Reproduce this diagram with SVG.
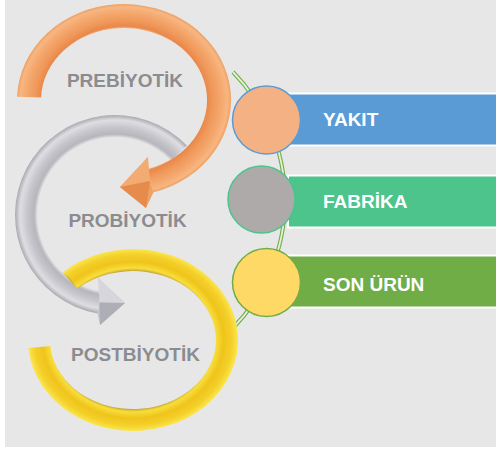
<svg xmlns="http://www.w3.org/2000/svg" width="496" height="449" viewBox="0 0 496 449">
<style>
.lbl{font-family:"Liberation Sans",Arial,sans-serif;font-weight:bold;font-size:19px;fill:#8c8c90;text-anchor:middle}
.bt{font-family:"Liberation Sans",Arial,sans-serif;font-weight:bold;font-size:19px;fill:#ffffff}
.bar{stroke:#ffffff;stroke-width:2}
.circ{stroke-width:1.5}
</style>
<defs>
<radialGradient id="gO" gradientUnits="userSpaceOnUse" cx="0" cy="0" r="1" gradientTransform="translate(124 100) scale(107 96)">
<stop offset="0.74" stop-color="#f6c39a"/>
<stop offset="0.77" stop-color="#e8884a"/>
<stop offset="0.83" stop-color="#f0985a"/>
<stop offset="0.91" stop-color="#f4a86e"/>
<stop offset="0.97" stop-color="#f8b682"/>
<stop offset="1" stop-color="#eea062"/>
</radialGradient>
<radialGradient id="gG" gradientUnits="userSpaceOnUse" cx="0" cy="0" r="1" gradientTransform="translate(115 215) scale(100 100)">
<stop offset="0.78" stop-color="#dcdce0"/>
<stop offset="0.81" stop-color="#b6b6bc"/>
<stop offset="0.88" stop-color="#c6c6cc"/>
<stop offset="0.95" stop-color="#dedee2"/>
<stop offset="1" stop-color="#a8a8b0"/>
</radialGradient>
<radialGradient id="gY" gradientUnits="userSpaceOnUse" cx="0" cy="0" r="1" gradientTransform="translate(133 340) scale(105 91)">
<stop offset="0.76" stop-color="#c8a838"/>
<stop offset="0.79" stop-color="#f8de3a"/>
<stop offset="0.86" stop-color="#efc41c"/>
<stop offset="0.94" stop-color="#f4d02a"/>
<stop offset="1" stop-color="#fbe64e"/>
</radialGradient>
</defs>
<rect x="0" y="0" width="496" height="449" fill="#ffffff"/>
<rect x="5" y="0" width="491" height="447" fill="#e7e7e7"/>

<g id="connectors">
<path d="M233 72 A183.5 183.5 0 0 1 233 328" fill="none" stroke="#70ad47" stroke-width="4"/>
<path d="M233 72 A183.5 183.5 0 0 1 233 328" fill="none" stroke="#e6efdc" stroke-width="1.8"/>
</g>

<g id="probiyotik">
<path d="M186.9 145.5 A100 100 0 1 0 97.6 313.5 L101.5 291.8 A78 78 0 1 1 171.1 160.8 Z" fill="url(#gG)"/>
<polygon points="98,278 125,303 100,325 97.6,313.5 101.5,291.8" fill="#c4c4ca"/>
<polygon points="98,278 125,303 99.5,302.6" fill="#d6d6dc"/>
<polygon points="125,303 100,325 99.5,302.6" fill="#aeaeb6"/>
</g>

<g id="postbiyotik">
<path d="M28.4 347.9 A105 91 0 1 0 62.7 272.4 L77.5 288.7 A83 69 0 1 1 50.3 346 Z" fill="url(#gY)"/>
<polygon points="62.7,272.4 77.5,288.7 70,278" fill="#b8a040" fill-opacity="0.5"/>
</g>

<g id="prebiyotik">
<path d="M17.1 96.7 A107 96 0 1 1 153.5 192.3 L146.9 169.2 A83 72 0 1 0 41.1 97.5 Z" fill="url(#gO)"/>
<polygon points="148,157 120,187 146,208 153.5,192.3 146.9,169.2" fill="#f0a063"/>
<polygon points="148,157 120,187 150,181" fill="#f4ab72"/>
<polygon points="120,187 146,208 150,181" fill="#e58c4c"/>
</g>

<text class="lbl" x="125" y="87">PREBİYOTİK</text>
<text class="lbl" x="127.5" y="227">PROBİYOTİK</text>
<text class="lbl" x="135.5" y="361">POSTBİYOTİK</text>

<g id="yakit">
<rect class="bar" x="288" y="93.5" width="212" height="52" fill="#5b9bd5"/>
<circle class="circ" cx="266.5" cy="120" r="34" fill="#f4b183" stroke="#5b9bd5"/>
<text class="bt" x="323" y="126">YAKIT</text>
</g>
<g id="fabrika">
<rect class="bar" x="288" y="175.5" width="212" height="52" fill="#4cc48b"/>
<circle class="circ" cx="261.5" cy="199.5" r="33.5" fill="#aeaaaa" stroke="#4cc48b"/>
<text class="bt" x="323" y="208">FABRİKA</text>
</g>
<g id="son-urun">
<rect class="bar" x="288" y="255.5" width="212" height="52" fill="#70ad47"/>
<circle class="circ" cx="266.5" cy="282.5" r="34" fill="#ffd966" stroke="#70ad47"/>
<text class="bt" x="323" y="291">SON ÜRÜN</text>
</g>
</svg>
